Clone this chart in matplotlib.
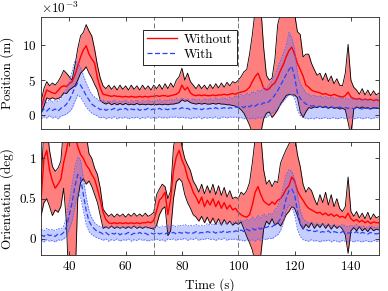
import numpy as np
import matplotlib
matplotlib.use("Agg")
import matplotlib.pyplot as plt

plt.rcParams["font.family"] = "serif"
plt.rcParams["font.serif"] = ["cmr10"]
plt.rcParams["mathtext.fontset"] = "cm"
plt.rcParams["axes.formatter.use_mathtext"] = True
plt.rcParams["font.size"] = 9.5

# time axis (s), one sample per second
t = np.arange(30, 151)

# ---- Position (mm), "Without"
pos_wo_mean = [1.1, 2.5, 3.6, 3.4, 3.2, 3.1, 3.5, 4.0, 4.2, 4.1,
               4.5, 4.8, 5.7, 7.0, 8.3, 9.3, 9.9, 8.7, 8.0, 7.4,
               5.3, 3.9, 3.0, 2.9, 2.8, 2.7, 2.8, 2.7, 2.7, 2.6,
               2.7, 2.6, 2.7, 2.6, 2.6, 2.7, 2.6, 2.7, 2.6, 2.7,
               2.7, 2.8, 2.7, 2.8, 2.8, 2.7, 2.8, 2.9, 3.0, 3.3,
               4.3, 3.6, 4.0, 3.2, 2.9, 2.8, 2.9, 2.8, 2.9, 2.8,
               2.8, 2.9, 2.8, 2.9, 2.9, 3.0, 2.9, 3.0, 3.1, 3.0,
               3.2, 3.3, 3.4, 3.6, 4.0, 4.8, 5.5, 6.0, 5.0, 3.9,
               3.6, 3.8, 4.3, 4.6, 5.4, 6.4, 7.2, 8.3, 9.2, 9.7,
               8.7, 7.4, 6.5, 5.6, 4.3, 4.0, 3.6, 3.4, 3.3, 3.2,
               3.0, 3.1, 2.9, 2.8, 3.0, 2.8, 2.7, 2.6, 2.8, 3.3,
               2.6, 2.4, 2.3, 2.4, 2.2, 2.3, 2.2, 2.3, 2.1, 2.2,
               2.1]
pos_wo_hi = [2.0, 3.8, 4.8, 4.2, 4.6, 4.3, 4.8, 5.5, 6.4, 6.0,
             5.5, 5.0, 7.1, 9.5, 11.3, 11.8, 12.9, 12.0, 11.3, 9.4,
             7.1, 5.3, 4.2, 3.8, 4.3, 3.7, 4.2, 3.6, 4.3, 3.7,
             4.2, 3.6, 4.3, 3.7, 4.2, 3.6, 4.3, 3.7, 4.2, 3.6,
             4.3, 3.8, 4.4, 3.7, 4.5, 3.8, 4.6, 4.0, 5.0, 5.5,
             6.7, 5.0, 6.0, 4.8, 4.3, 3.8, 4.4, 3.8, 4.3, 3.7,
             4.4, 3.8, 4.5, 3.9, 4.6, 4.0, 4.7, 4.2, 4.8, 4.6,
             5.0, 5.5, 6.2, 6.5, 8.7, 11.5, 15.0, 16.5, 15.5, 9.7,
             5.7, 5.0, 5.3, 8.0, 12.9, 14.5, 15.5, 16.0, 16.0, 15.0,
             14.5, 11.9, 11.5, 8.3, 8.7, 8.7, 7.4, 6.5, 5.7, 6.0,
             5.0, 6.0, 4.8, 5.6, 4.5, 5.2, 4.3, 4.2, 6.0, 10.1,
             5.0, 4.0, 3.6, 3.0, 3.8, 2.9, 3.6, 2.8, 3.5, 2.9,
             3.2]
pos_wo_lo = [0.4, 1.3, 2.5, 2.3, 2.5, 2.3, 2.4, 2.6, 3.2, 3.1,
             3.6, 3.9, 4.2, 5.0, 6.0, 6.4, 6.9, 6.0, 5.3, 4.4,
             3.6, 2.1, 1.8, 1.6, 1.8, 1.5, 1.7, 1.5, 1.7, 1.5,
             1.7, 1.5, 1.6, 1.5, 1.7, 1.5, 1.6, 1.5, 1.6, 1.5,
             1.6, 1.5, 1.6, 1.5, 1.6, 1.5, 1.6, 1.6, 1.7, 1.8,
             2.2, 2.0, 2.1, 1.8, 1.7, 1.6, 1.7, 1.6, 1.7, 1.6,
             1.6, 1.7, 1.6, 1.7, 1.6, 1.6, 1.5, 1.5, 1.4, 1.3,
             1.1, 0.8, 0.3, -0.5, -1.4, -2.5, -3.5, -3.5, -2.5, -0.5,
             0.3, 0.5, -0.3, 0.2, 0.8, 1.6, 2.2, 2.8, 3.0, 2.9,
             2.9, 2.5, 0.5, -0.3, 0.5, 1.1, 1.0, 1.2, 1.1, 1.3,
             1.1, 1.3, 1.0, 1.2, 1.0, 1.1, 0.9, 1.0, 0.8, -1.0,
             -3.0, 0.9, 1.2, 1.0, 1.2, 1.0, 1.1, 0.9, 1.1, 1.0,
             1.0]

# ---- Position (mm), "With"
pos_w_mean = [0.4, 0.9, 0.6, 1.0, 0.7, 0.9, 0.6, 1.0, 1.2, 1.6,
              2.2, 3.0, 4.0, 4.6, 4.3, 3.6, 2.8, 2.2, 1.6, 1.3,
              1.1, 0.8, 1.0, 0.7, 0.9, 0.8, 1.0, 0.7, 0.9, 0.8,
              1.0, 0.7, 0.9, 0.8, 1.0, 0.7, 0.9, 0.8, 1.0, 0.8,
              0.9, 0.8, 1.0, 0.8, 0.9, 0.8, 1.0, 0.9, 1.0, 0.9,
              1.1, 0.9, 1.0, 0.8, 1.0, 0.9, 1.0, 0.8, 1.0, 0.9,
              1.0, 0.9, 1.1, 0.9, 1.0, 1.1, 0.9, 1.1, 1.0, 1.2,
              1.1, 1.3, 1.1, 1.4, 1.2, 1.5, 1.3, 1.6, 1.5, 1.8,
              1.7, 2.0, 2.4, 2.9, 3.5, 4.3, 5.0, 5.8, 6.5, 7.0,
              5.5, 3.2, 2.4, 2.0, 1.6, 1.5, 1.3, 1.4, 1.2, 1.3,
              1.1, 1.2, 1.0, 1.2, 1.1, 1.0, 1.2, 1.0, 1.1, 1.0,
              1.1, 0.9, 1.1, 1.0, 0.9, 1.1, 1.0, 0.9, 1.0, 1.1,
              1.0]
pos_w_hi = [1.5, 2.2, 1.8, 2.3, 1.9, 2.2, 2.0, 2.5, 3.0, 3.8,
            4.8, 6.2, 7.8, 7.5, 6.8, 5.7, 4.6, 3.7, 3.0, 2.6,
            2.3, 1.9, 2.2, 1.8, 2.1, 1.9, 2.2, 1.8, 2.1, 1.9,
            2.2, 1.8, 2.1, 1.9, 2.2, 1.8, 2.1, 1.9, 2.2, 1.9,
            2.1, 2.0, 2.3, 1.9, 2.2, 2.0, 2.3, 2.1, 2.4, 2.1,
            2.5, 2.2, 2.4, 2.0, 2.4, 2.1, 2.3, 2.0, 2.4, 2.1,
            2.4, 2.1, 2.5, 2.2, 2.4, 2.5, 2.2, 2.6, 2.4, 2.8,
            2.6, 3.0, 2.7, 3.2, 2.9, 3.4, 3.1, 3.6, 3.4, 4.0,
            3.8, 4.4, 5.0, 5.8, 6.8, 7.8, 8.8, 9.8, 11.8, 11.0,
            9.5, 6.0, 4.5, 3.8, 3.2, 3.0, 2.7, 2.9, 2.6, 2.8,
            2.5, 2.7, 2.4, 2.6, 2.5, 2.3, 2.6, 2.3, 2.5, 2.3,
            2.5, 2.2, 2.4, 2.3, 2.1, 2.4, 2.2, 2.1, 2.3, 2.4,
            2.2]
pos_w_lo = [-0.5, -0.2, -0.4, 0.0, -0.4, -0.2, -0.5, -0.1, 0.0, 0.2,
            0.5, 1.0, 2.0, 2.9, 2.6, 1.9, 1.2, 0.7, 0.3, 0.1,
            -0.1, -0.4, -0.2, -0.5, -0.3, -0.4, -0.2, -0.5, -0.3, -0.4,
            -0.2, -0.5, -0.3, -0.4, -0.2, -0.5, -0.3, -0.4, -0.2, -0.4,
            -0.3, -0.4, -0.2, -0.4, -0.3, -0.4, -0.2, -0.3, -0.2, -0.4,
            -0.2, -0.4, -0.3, -0.5, -0.3, -0.4, -0.2, -0.5, -0.3, -0.4,
            -0.3, -0.4, -0.2, -0.5, -0.3, -0.2, -0.4, -0.2, -0.3, -0.2,
            -0.4, -0.3, -0.5, -0.3, -0.5, -0.4, -0.5, -0.3, -0.4, -0.2,
            -0.3, 0.0, 0.3, 0.6, 1.0, 1.5, 2.0, 2.5, 2.9, 3.0,
            2.5, 0.8, 0.0, -0.3, -0.4, -0.5, -0.4, -0.5, -0.3, -0.5,
            -0.4, -0.3, -0.5, -0.4, -0.3, -0.5, -0.4, -0.3, -0.5, -0.4,
            -0.3, -0.5, -0.4, -0.3, -0.5, -0.4, -0.3, -0.5, -0.4, -0.3,
            -0.4]

# ---- Orientation (deg), "Without"
ori_wo_mean = [0.50, 1.00, 1.10, 0.85, 0.72, 0.63, 0.68, 0.74, 0.95, 1.10,
               1.30, 1.40, 1.30, 1.15, 1.05, 1.00, 0.92, 0.87, 0.80, 0.74,
               0.62, 0.48, 0.33, 0.24, 0.20, 0.19, 0.20, 0.19, 0.20, 0.19,
               0.20, 0.19, 0.20, 0.19, 0.20, 0.19, 0.20, 0.20, 0.21, 0.20,
               0.23, 0.35, 0.48, 0.52, 0.58, 0.30, 0.50, 0.85, 1.02, 1.10,
               0.98, 0.90, 0.76, 0.68, 0.58, 0.52, 0.44, 0.52, 0.40, 0.48,
               0.42, 0.50, 0.40, 0.47, 0.38, 0.45, 0.37, 0.42, 0.36, 0.38,
               0.33, 0.30, 0.28, 0.27, 0.30, 0.42, 0.58, 0.65, 0.55, 0.47,
               0.44, 0.42, 0.46, 0.43, 0.48, 0.50, 0.55, 0.62, 0.66, 0.77,
               0.72, 0.60, 0.53, 0.48, 0.42, 0.38, 0.36, 0.34, 0.32, 0.33,
               0.30, 0.32, 0.29, 0.31, 0.28, 0.30, 0.27, 0.28, 0.26, 0.32,
               0.25, 0.22, 0.24, 0.21, 0.23, 0.20, 0.22, 0.19, 0.21, 0.20,
               0.20]
ori_wo_hi = [0.68, 1.40, 1.40, 1.10, 0.90, 0.84, 0.88, 0.97, 1.40, 1.60,
             2.00, 2.00, 1.80, 1.60, 1.50, 1.40, 1.30, 1.06, 1.00, 0.88,
             0.80, 0.63, 0.37, 0.32, 0.28, 0.31, 0.27, 0.31, 0.28, 0.31,
             0.27, 0.31, 0.28, 0.32, 0.28, 0.31, 0.28, 0.32, 0.28, 0.30,
             0.33, 0.55, 0.62, 0.68, 0.65, 0.50, 0.60, 1.15, 1.30, 1.40,
             1.15, 1.00, 0.92, 0.85, 0.72, 0.66, 0.58, 0.68, 0.56, 0.66,
             0.57, 0.68, 0.55, 0.66, 0.54, 0.64, 0.52, 0.60, 0.50, 0.52,
             0.50, 0.58, 0.55, 0.60, 0.70, 0.95, 1.25, 1.50, 1.30, 0.86,
             0.68, 0.73, 0.65, 0.72, 0.70, 0.94, 1.03, 1.11, 1.18, 1.25,
             1.30, 1.05, 0.90, 0.68, 0.58, 0.64, 0.60, 0.50, 0.42, 0.55,
             0.45, 0.58, 0.42, 0.55, 0.40, 0.50, 0.38, 0.34, 0.40, 0.77,
             0.34, 0.28, 0.34, 0.26, 0.32, 0.25, 0.33, 0.24, 0.31, 0.26,
             0.28]
ori_wo_lo = [0.29, 0.45, 0.50, 0.40, 0.29, 0.36, 0.33, 0.40, 0.63, 0.20,
             -0.80, -0.80, -0.60, 0.50, 0.70, 0.75, 0.68, 0.72, 0.65, 0.55,
             0.45, 0.29, 0.13, 0.15, 0.13, 0.16, 0.13, 0.15, 0.13, 0.15,
             0.13, 0.15, 0.13, 0.16, 0.13, 0.15, 0.13, 0.15, 0.14, 0.13,
             0.12, 0.17, 0.30, 0.37, 0.40, 0.04, 0.10, 0.50, 0.71, 0.75,
             0.71, 0.55, 0.45, 0.38, 0.30, 0.27, 0.22, 0.28, 0.20, 0.27,
             0.19, 0.26, 0.18, 0.25, 0.17, 0.24, 0.18, 0.22, 0.17, 0.20,
             0.18, 0.21, 0.12, 0.03, -0.05, -0.14, -0.30, -0.35, -0.20, 0.12,
             0.22, 0.18, 0.25, 0.17, 0.20, 0.16, 0.22, 0.30, 0.34, 0.40,
             0.38, 0.29, 0.18, 0.12, 0.18, 0.14, 0.20, 0.13, 0.18, 0.14,
             0.19, 0.13, 0.18, 0.12, 0.17, 0.13, 0.16, 0.12, 0.05, -0.18,
             0.10, 0.14, 0.10, 0.15, 0.10, 0.13, 0.09, 0.14, 0.10, 0.12,
             0.11]

# ---- Orientation (deg), "With"
ori_w_mean = [0.05, 0.03, 0.06, 0.04, 0.05, 0.03, 0.06, 0.05, 0.08, 0.15,
              0.30, 0.45, 0.65, 0.80, 0.76, 0.55, 0.35, 0.22, 0.16, 0.12,
              0.09, 0.08, 0.06, 0.08, 0.05, 0.07, 0.06, 0.08, 0.05, 0.07,
              0.06, 0.08, 0.05, 0.07, 0.06, 0.08, 0.06, 0.07, 0.05, 0.07,
              0.06, 0.08, 0.06, 0.07, 0.06, 0.08, 0.07, 0.08, 0.06, 0.08,
              0.07, 0.09, 0.07, 0.08, 0.07, 0.09, 0.07, 0.08, 0.07, 0.09,
              0.08, 0.09, 0.07, 0.09, 0.08, 0.10, 0.08, 0.09, 0.08, 0.10,
              0.09, 0.11, 0.09, 0.12, 0.10, 0.13, 0.11, 0.14, 0.12, 0.15,
              0.14, 0.16, 0.15, 0.18, 0.20, 0.25, 0.35, 0.50, 0.60, 0.62,
              0.55, 0.35, 0.20, 0.13, 0.12, 0.10, 0.11, 0.09, 0.10, 0.08,
              0.09, 0.08, 0.10, 0.07, 0.09, 0.08, 0.07, 0.09, 0.08, 0.07,
              0.08, 0.07, 0.09, 0.06, 0.08, 0.07, 0.06, 0.08, 0.07, 0.06,
              0.07]
ori_w_hi = [0.12, 0.10, 0.13, 0.11, 0.12, 0.10, 0.13, 0.12, 0.16, 0.28,
            0.48, 0.68, 0.90, 1.02, 0.98, 0.75, 0.52, 0.35, 0.26, 0.20,
            0.17, 0.15, 0.14, 0.16, 0.13, 0.15, 0.14, 0.16, 0.13, 0.15,
            0.14, 0.16, 0.13, 0.15, 0.14, 0.16, 0.14, 0.15, 0.13, 0.15,
            0.14, 0.17, 0.14, 0.16, 0.15, 0.17, 0.15, 0.17, 0.15, 0.17,
            0.16, 0.18, 0.16, 0.17, 0.16, 0.18, 0.16, 0.17, 0.16, 0.19,
            0.17, 0.19, 0.17, 0.20, 0.18, 0.21, 0.18, 0.20, 0.19, 0.22,
            0.20, 0.23, 0.21, 0.25, 0.22, 0.27, 0.24, 0.29, 0.26, 0.31,
            0.28, 0.32, 0.30, 0.36, 0.40, 0.50, 0.65, 0.80, 0.86, 0.84,
            0.75, 0.55, 0.35, 0.25, 0.22, 0.19, 0.21, 0.18, 0.20, 0.17,
            0.19, 0.16, 0.19, 0.15, 0.18, 0.16, 0.15, 0.18, 0.16, 0.15,
            0.17, 0.15, 0.18, 0.14, 0.16, 0.15, 0.14, 0.16, 0.15, 0.14,
            0.15]
ori_w_lo = [-0.02, -0.04, -0.01, -0.03, -0.02, -0.04, -0.01, -0.02, 0.00, 0.03,
            0.12, 0.22, 0.40, 0.58, 0.52, 0.35, 0.18, 0.09, 0.05, 0.03,
            0.01, 0.00, -0.02, 0.00, -0.03, -0.01, -0.02, 0.00, -0.03, -0.01,
            -0.02, 0.00, -0.03, -0.01, -0.02, 0.00, -0.02, -0.01, -0.03, -0.01,
            -0.02, 0.00, -0.02, -0.01, -0.03, 0.00, -0.01, 0.00, -0.02, 0.00,
            -0.01, 0.01, -0.02, 0.00, -0.01, 0.01, -0.02, 0.00, -0.01, 0.01,
            -0.01, 0.00, -0.02, 0.00, -0.01, 0.01, -0.02, 0.00, -0.01, 0.00,
            -0.02, -0.01, -0.03, -0.01, -0.02, -0.01, -0.03, 0.00, -0.02, 0.00,
            -0.01, 0.01, 0.00, 0.03, 0.05, 0.10, 0.20, 0.35, 0.42, 0.40,
            0.30, 0.12, 0.03, -0.01, -0.02, -0.03, -0.01, -0.03, -0.02, -0.04,
            -0.02, -0.03, -0.01, -0.04, -0.02, -0.03, -0.04, -0.02, -0.03, -0.04,
            -0.02, -0.04, -0.02, -0.03, -0.04, -0.02, -0.03, -0.04, -0.02, -0.03,
            -0.03]

events = [70, 100]

RED = (1.0, 0.0, 0.0)
BLUE = (0.15, 0.25, 1.0)
EDGE = (0.15, 0.15, 0.15)


def draw(ax, wo_m, wo_hi, wo_lo, w_m, w_hi, w_lo, scale=1.0):
    wo_m, wo_hi, wo_lo = [np.array(a) * scale for a in (wo_m, wo_hi, wo_lo)]
    w_m, w_hi, w_lo = [np.array(a) * scale for a in (w_m, w_hi, w_lo)]
    ax.fill_between(t, wo_lo, wo_hi, color=RED, alpha=0.5, lw=0)
    ax.plot(t, wo_hi, color="k", lw=0.6)
    ax.plot(t, wo_lo, color="k", lw=0.6)
    ax.plot(t, wo_m, color=RED, lw=1.0, label="Without")
    ax.fill_between(t, w_lo, w_hi, color=(0.35, 0.45, 1.0), alpha=0.35, lw=0)
    ax.plot(t, w_hi, color=(0.3, 0.4, 1.0), lw=0.6, ls=(0, (2, 1.5)))
    ax.plot(t, w_lo, color=(0.3, 0.4, 1.0), lw=0.6, ls=(0, (2, 1.5)))
    ax.plot(t, w_m, color=BLUE, lw=0.9, ls=(0, (4, 2)), label="With")
    for e in events:
        ax.axvline(e, color=(0.45, 0.45, 0.45), lw=0.7, ls=(0, (5, 3)))
    ax.set_xlim(30, 150)
    ax.tick_params(direction="in", top=True, right=True, length=3,
                   colors=EDGE, labelcolor="k", width=0.6)
    for s in ax.spines.values():
        s.set_color(EDGE)
        s.set_linewidth(0.6)


fig, (ax1, ax2) = plt.subplots(2, 1, figsize=(3.88, 2.91), dpi=100, sharex=True)
fig.subplots_adjust(left=0.106, right=0.977, top=0.942, bottom=0.124, hspace=0.115)

draw(ax1, pos_wo_mean, pos_wo_hi, pos_wo_lo, pos_w_mean, pos_w_hi, pos_w_lo, scale=1e-3)
ax1.set_ylim(-2e-3, 14e-3)
ax1.set_yticks([0, 5e-3, 10e-3])
ax1.ticklabel_format(axis="y", style="sci", scilimits=(-3, -3), useMathText=True)
ax1.yaxis.get_offset_text().set_fontsize(9.5)
ax1.set_ylabel("Position (m)")
ax1.legend(loc="upper center", bbox_to_anchor=(0.44, 0.945), fancybox=False,
           edgecolor="k", framealpha=1, handlelength=2.3, borderpad=0.3,
           labelspacing=0.2, handletextpad=0.5)
ax1.legend_.get_frame().set_linewidth(0.6)

draw(ax2, ori_wo_mean, ori_wo_hi, ori_wo_lo, ori_w_mean, ori_w_hi, ori_w_lo)
ax2.set_ylim(-0.2, 1.2)
ax2.set_yticks([0, 0.5, 1])
ax2.set_yticklabels(["0", "0.5", "1"])
ax2.set_xticks([40, 60, 80, 100, 120, 140])
ax2.set_xlabel("Time (s)")
ax2.set_ylabel("Orientation (deg)")
fig.align_ylabels([ax1, ax2])

fig.savefig("out.png", dpi=100)
